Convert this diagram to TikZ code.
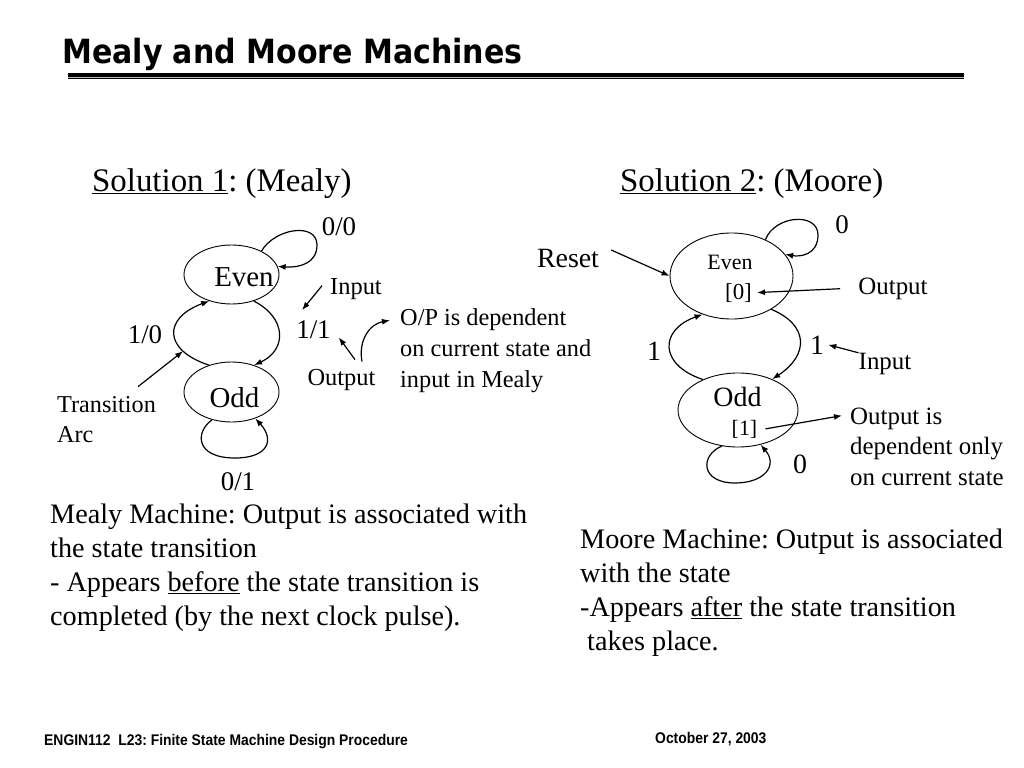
\documentclass[tikz,border=0pt]{standalone}
\usepackage{fontspec}
\setmainfont{Liberation Serif}
\newfontfamily\titlefont{DejaVu Sans Condensed Bold}
\newfontfamily\footfont{Liberation Sans}[FakeStretch=0.9]
\usetikzlibrary{arrows.meta}
\usetikzlibrary{shapes}
\frenchspacing

\newcommand{\fsz}[2]{\fontsize{#1}{#2}\selectfont}

\tikzset{
  state/.style={draw,ellipse,inner sep=0pt,line width=0.9bp},
  lbl/.style={inner sep=0pt,anchor=base},
  blk/.style={inner sep=0pt,anchor=north west,align=left},
  arc/.style={black,line width=1.2bp,->},
}

\begin{document}
\begin{tikzpicture}[x=1bp,y=-1bp,>={Latex[length=8bp,width=6bp]},line join=bevel,]
\useasboundingbox (0,0) rectangle (1024,768);
%% title and rule
\node (title) at (62,64) [inner sep=0pt,anchor=base west,font=\titlefont\fsz{33.5}{40}] {Mealy and Moore Machines};
\draw [line width=3.4bp] (68,75) -- (964,75);
\draw [gray!55,line width=1.2bp] (68,77.3) -- (964,77.3);
\draw [line width=1bp] (68,78.8) -- (964,78.8);
%% headings
\node (sol_1) at (92,191) [inner sep=0pt,anchor=base west,font=\fsz{33}{40}] {\underline{Solution 1}: (Mealy)};
\node (sol_2) at (620,191) [inner sep=0pt,anchor=base west,font=\fsz{33}{40}] {\underline{Solution 2}: (Moore)};
%% Mealy machine
\node (mealy_even) at (231.5,274.5) [state,minimum width=95bp,minimum height=59bp] {};
  \node (mealy_odd) at (231.5,392) [state,minimum width=95bp,minimum height=60bp] {};
  \node (mealy_even_txt) at (244,286) [lbl,font=\fsz{29}{34}] {Even};
  \node (mealy_odd_txt) at (234.5,407) [lbl,font=\fsz{29}{34}] {Odd};
  \node (lbl_00) at (339,235) [lbl,font=\fsz{27}{32}] {0/0};
  \node (lbl_10) at (145,343) [lbl,font=\fsz{27}{32}] {1/0};
  \node (lbl_11) at (313.5,338) [lbl,font=\fsz{27}{32}] {1/1};
  \node (lbl_01) at (238,490) [lbl,font=\fsz{27}{32}] {0/1};
  \node (mealy_in) at (356,294) [lbl,font=\fsz{24.5}{30}] {Input};
  \node (mealy_out) at (341.5,385) [lbl,font=\fsz{24.5}{30}] {Output};
  \node (mealy_note) at (400,308.3) [blk,font=\fsz{24.4}{31}] {O/P is dependent\\on current state and\\input in Mealy};
  \node (trans) at (57,396.6) [blk,font=\fsz{24.3}{30}] {Transition\\Arc};
  \draw [arc] (mealy_even.38) .. controls (275,228) and (317,222) .. (317,245) .. controls (317,263) and (300,268) .. (mealy_even.10);
  \draw [arc] (mealy_even.-50) .. controls (287,318) and (287,350) .. (mealy_odd.50);
  \draw [arc] (mealy_odd.130) .. controls (163,350) and (163,318) .. (mealy_even.-130) coordinate[pos=0.25] (arc_mark);
  \draw [arc] (mealy_odd.-125) .. controls (195,432) and (195,458) .. (235,458) .. controls (268,458) and (275,440) .. (mealy_odd.-48);
  \draw [arc] ([xshift=-18bp,yshift=10bp]trans.north east) -- (arc_mark);
  \draw [arc] ([xshift=-8bp,yshift=3bp]mealy_in.west) -- ([xshift=6bp,yshift=10bp]lbl_11.north west);
  \draw [arc] ([xshift=13.5bp,yshift=9bp]mealy_out.north) -- ([xshift=8bp,yshift=1bp]lbl_11.south east);
  \draw [arc] ([xshift=20.5bp,yshift=7bp]mealy_out.north) .. controls (358,340) and (370,324) .. ([xshift=-10bp,yshift=-12bp]mealy_note.north west);
%% Moore machine
\node (moore_even) at (731.5,276) [state,minimum width=123bp,minimum height=86bp] {};
  \node (moore_odd) at (738,410) [state,minimum width=120bp,minimum height=74bp] {};
  \node (moore_even_txt) at (730,269) [lbl,font=\fsz{22}{26}] {Even};
  \node (moore_even_out) at (738.5,299) [lbl,font=\fsz{23}{27}] {[0]};
  \node (moore_odd_txt) at (737.5,406) [lbl,font=\fsz{28}{33}] {Odd};
  \node (moore_odd_out) at (744.5,435) [lbl,font=\fsz{22}{26}] {[1]};
  \node (reset) at (568,267) [lbl,font=\fsz{28}{33}] {Reset};
  \node (lbl_0t) at (842,233) [lbl,font=\fsz{27}{32}] {0};
  \node (lbl_1l) at (654,360) [lbl,font=\fsz{28}{33}] {1};
  \node (lbl_1r) at (817,354) [lbl,font=\fsz{28}{33}] {1};
  \node (lbl_0b) at (800,473.5) [lbl,font=\fsz{28}{33}] {0};
  \node (moore_out) at (893,294.3) [lbl,font=\fsz{25}{30}] {Output};
  \node (moore_in) at (885,369.3) [lbl,font=\fsz{25}{30}] {Input};
  \node (moore_note) at (850,407.6) [blk,font=\fsz{25}{30.5}] {Output is\\dependent only\\on current state};
  \draw [arc] (moore_even.47) .. controls (775,215) and (818,212) .. (818,235) .. controls (818,255) and (800,257) .. (moore_even.22);
  \draw [arc] (moore_even.-40) .. controls (809,325) and (809,355) .. (moore_odd.42);
  \draw [arc] (moore_odd.139) .. controls (659,365) and (659,330) .. (moore_even.-127);
  \draw [arc] (moore_odd.-114) .. controls (700,455) and (700,483) .. (735,483) .. controls (765,483) and (778,465) .. (moore_odd.-57);
  \draw [arc] ([xshift=12bp,yshift=8bp]reset.east) -- (moore_even.west);
  \draw [arc] ([xshift=-18bp]moore_out.west) -- ([xshift=5bp]moore_even_out.east);
  \draw [arc] (moore_in.north west) -- ([xshift=4bp]lbl_1r.east);
  \draw [arc] ([xshift=8bp]moore_odd_out.east) -- ([xshift=-8bp,yshift=-8bp]moore_note.north west);
%% text blocks
\node (mealy_text) at (50,504.2) [blk,font=\fsz{28.3}{34}] {Mealy Machine: Output is associated with\\the state transition\\- Appears \underline{before} the state transition is\\completed (by the next clock pulse).};
\node (moore_text) at (580,529) [blk,font=\fsz{28.3}{34}] {Moore Machine: Output is associated\\with the state\\-Appears \underline{after} the state transition\\\hspace*{7bp}takes place.};
%% footer
\node (foot_l) at (44,745) [inner sep=0pt,anchor=base west,font=\footfont\bfseries\fsz{15.5}{18}] {ENGIN112\ \ L23: Finite State Machine Design Procedure};
\node (foot_r) at (655,743) [inner sep=0pt,anchor=base west,font=\footfont\bfseries\fsz{15.5}{18}] {October 27, 2003};
%
\end{tikzpicture}
\end{document}
